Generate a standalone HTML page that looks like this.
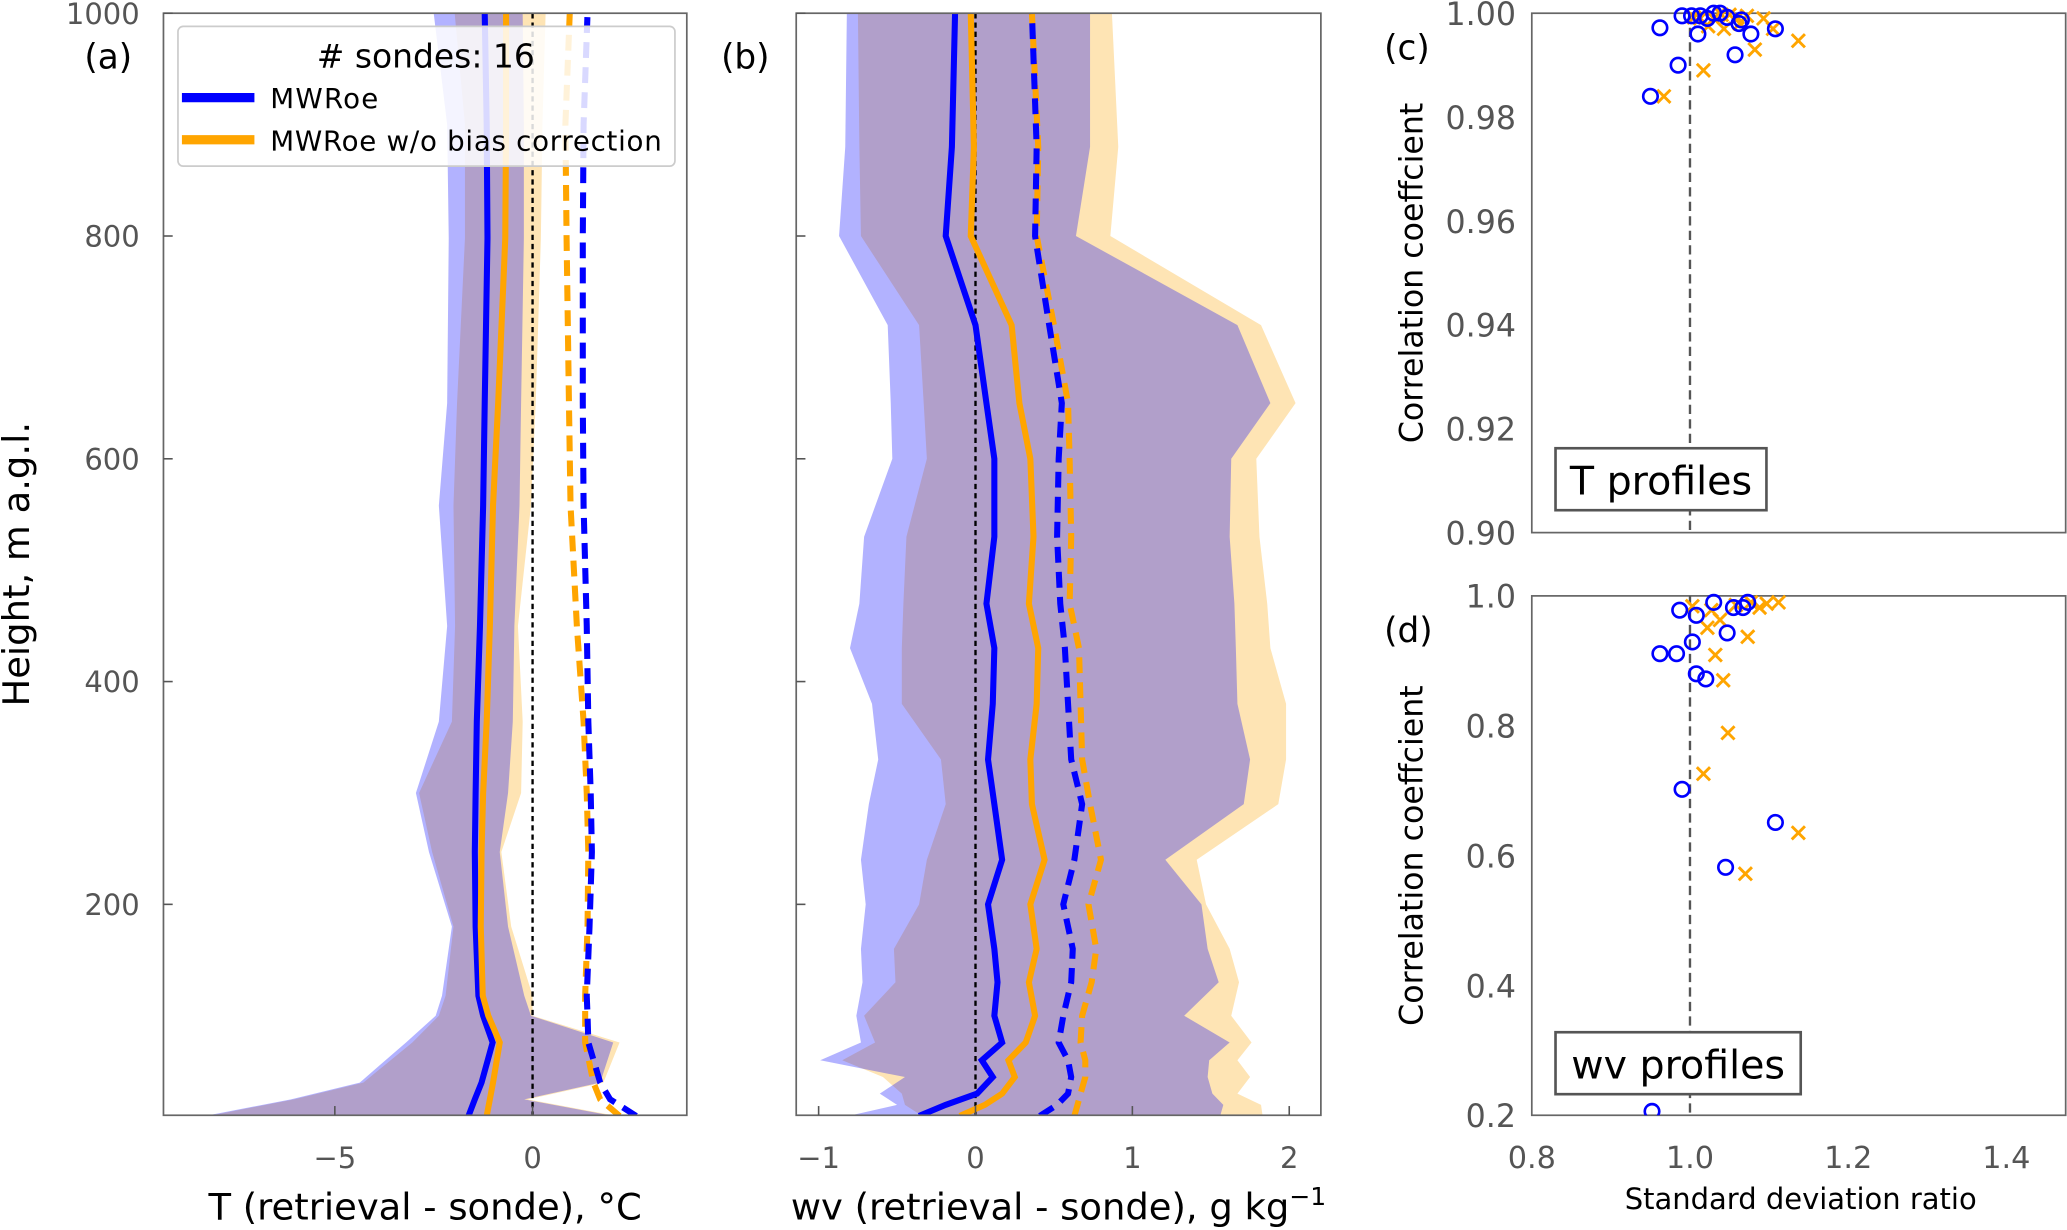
<!DOCTYPE html>
<html><head><meta charset="utf-8"><style>
html,body{margin:0;padding:0;background:#fff;}
svg{display:block;font-family:"DejaVu Sans","Liberation Sans",sans-serif;}
</style></head><body>
<svg id="fig" width="2067" height="1230" viewBox="0 0 1568 933" xmlns="http://www.w3.org/2000/svg"></svg>
<script>
// ---------- Panel (a) data: temperature differences ----------
const htsA = [10,25,40,76,100,118,180,247,300,364,450,558,650,798,900,1000];
const aBlueSolid = [-1.62,-1.46,-1.29,-1.01,-1.25,-1.37,-1.44,-1.46,-1.44,-1.41,-1.33,-1.25,-1.21,-1.14,-1.16,-1.21];
const aOrangeSolid = [-1.16,-1.08,-1.00,-0.83,-1.12,-1.26,-1.31,-1.29,-1.25,-1.16,-1.08,-1.00,-0.87,-0.69,-0.67,-0.67];
const aBlueDashed = [2.62,1.96,1.71,1.41,1.39,1.37,1.44,1.50,1.47,1.41,1.37,1.29,1.27,1.27,1.29,1.39];
const aOrangeDashed = [2.20,1.71,1.54,1.33,1.33,1.33,1.39,1.41,1.37,1.29,1.12,0.96,0.92,0.86,0.83,0.94];
const aBlueLo = [-8.28,-6.11,-4.37,-3.20,-2.45,-2.29,-2.04,-2.62,-2.95,-2.37,-2.16,-2.37,-2.16,-2.12,-2.16,-2.50];
const aBlueHi = [2.04,-0.21,1.71,2.04,-0.04,-0.21,-0.62,-0.83,-0.62,-0.50,-0.46,-0.33,-0.29,-0.22,-0.22,-0.25];
const aOrangeLo = [-8.19,-6.03,-4.28,-3.04,-2.37,-2.20,-2.00,-2.54,-2.87,-2.04,-1.96,-2.00,-1.91,-1.71,-1.71,-1.97];
const aOrangeHi = [2.12,-0.12,1.79,2.20,0.00,0.00,-0.54,-0.79,-0.29,-0.25,-0.37,-0.04,0.08,0.21,0.25,0.33];
const aXTicks = [-5,0];
const yTicksAB = [200,400,600,800,1000];

// ---------- Panel (b) data: water vapour differences ----------
const htsB = [10,20,30,45,60,76,100,130,160,200,240,290,330,380,430,470,530,600,650,720,800,880,1000];
const bBlueSolid = [-0.36,-0.19,0.01,0.11,0.04,0.17,0.12,0.14,0.12,0.08,0.17,0.12,0.08,0.11,0.12,0.07,0.12,0.12,0.07,0.00,-0.19,-0.15,-0.13];
const bOrangeSolid = [-0.10,0.06,0.17,0.25,0.21,0.32,0.38,0.34,0.39,0.35,0.44,0.36,0.35,0.39,0.40,0.34,0.37,0.35,0.28,0.23,-0.03,-0.01,-0.03];
const bBlueDashed = [0.41,0.52,0.59,0.61,0.59,0.53,0.56,0.61,0.62,0.56,0.63,0.68,0.61,0.59,0.57,0.54,0.52,0.53,0.55,0.47,0.38,0.39,0.36];
const bOrangeDashed = [0.63,0.65,0.67,0.70,0.70,0.67,0.68,0.74,0.77,0.72,0.80,0.73,0.68,0.67,0.66,0.60,0.61,0.60,0.59,0.50,0.39,0.40,0.36];
const bBlueLo = [-0.81,-0.50,-0.61,-0.45,-0.99,-0.73,-0.76,-0.72,-0.73,-0.70,-0.73,-0.68,-0.62,-0.66,-0.80,-0.74,-0.71,-0.53,-0.54,-0.56,-0.87,-0.83,-0.82];
const bBlueHi = [1.56,1.58,1.51,1.48,1.49,1.62,1.33,1.55,1.48,1.44,1.21,1.71,1.75,1.67,1.66,1.65,1.62,1.63,1.88,1.67,0.64,0.73,0.73];
const bOrangeLo = [-0.34,-0.45,-0.47,-0.59,-0.85,-0.64,-0.71,-0.51,-0.52,-0.36,-0.31,-0.19,-0.22,-0.47,-0.47,-0.46,-0.44,-0.31,-0.33,-0.36,-0.73,-0.74,-0.75];
const bOrangeHi = [1.83,1.82,1.67,1.75,1.67,1.76,1.63,1.68,1.62,1.47,1.41,1.93,1.98,1.98,1.88,1.86,1.81,1.79,2.04,1.82,0.86,0.91,0.87];
const bXTicks = [-1,0,1,2];

// ---------- Panel (c) data: T profile statistics ----------
const cBlueSd = [0.962,0.990,1.002,1.013,1.022,1.010,1.030,1.057,1.077,1.062,1.108,0.985,0.950,1.065,1.038,1.047];
const cBlueR = [0.9972,0.9995,0.9995,0.9995,0.999,0.996,1.0,0.992,0.996,0.998,0.997,0.990,0.984,0.9987,1.0,0.9992];
const cOrangeSd = [0.967,1.017,1.082,1.137,1.105,1.043,1.063,1.023,1.050,1.005,1.093,1.030,1.060,1.013,1.072,1.040];
const cOrangeR = [0.984,0.989,0.993,0.9947,0.997,0.997,0.998,0.9975,0.9997,0.9992,0.999,0.999,0.9992,0.999,0.9995,0.9997];
const cYTicks = [0.90,0.92,0.94,0.96,0.98,1.00];

// ---------- Panel (d) data: wv profile statistics ----------
const dBlueSd = [0.987,1.008,1.030,1.055,1.067,1.073,1.047,0.962,0.983,1.003,1.008,1.020,0.990,1.108,1.045,0.952];
const dBlueR = [0.978,0.970,0.990,0.982,0.982,0.990,0.943,0.911,0.911,0.929,0.880,0.872,0.702,0.651,0.582,0.206];
const dOrangeSd = [1.027,1.038,1.077,1.088,1.112,1.022,1.073,1.032,1.042,1.048,1.017,1.137,1.070,1.058,1.097,1.003];
const dOrangeR = [0.978,0.963,0.990,0.982,0.990,0.951,0.937,0.909,0.870,0.789,0.726,0.635,0.572,0.986,0.988,0.984];
const dYTicks = [0.2,0.4,0.6,0.8,1.0];
const sdXTicks = [0.8,1.0,1.2,1.4];

const NS = "http://www.w3.org/2000/svg";
const svg = document.getElementById('fig');
function el(tag, attrs, parent, text){
  const e = document.createElementNS(NS, tag);
  for (const k in attrs) e.setAttribute(k, attrs[k]);
  if (text !== undefined) e.textContent = text;
  (parent||svg).appendChild(e);
  return e;
}
function lin(d0,d1,r0,r1){ return v => r0 + (v-d0)*(r1-r0)/(d1-d0); }

const yH = lin(1000, 200, 10, 686);
const xA = lin(0, -5, 404, 254);
const xB = lin(0, 1, 740, 859);
const xSd = lin(0.8, 1.0, 1162, 1282);
const yC = lin(1.0, 0.9, 10, 404);
const yD = lin(1.0, 0.2, 452, 846);

function linePath(xs, hs, xf){ return xs.map((v,i)=>(i?'L':'M')+xf(v).toFixed(1)+','+yH(hs[i]).toFixed(1)).join(''); }
function bandPath(lo, hi, hs, xf){
  let d = lo.map((v,i)=>(i?'L':'M')+xf(v).toFixed(1)+','+yH(hs[i]).toFixed(1)).join('');
  for (let i=hi.length-1;i>=0;i--) d += 'L'+xf(hi[i]).toFixed(1)+','+yH(hs[i]).toFixed(1);
  return d+'Z';
}

function profilePanel(id, x0, x1, hs, xf, series, xticks, xtitle, letter, letterX){
  const g = el('g', {}, svg);
  
  
  el('defs', {}, g).innerHTML = `<clipPath id="clip-${id}"><rect x="${x0}" y="10" width="${x1-x0}" height="836"/></clipPath>`;
  const plot = el('g', {'clip-path':`url(#clip-${id})`}, g);
  const ob = el('path', {d: bandPath(series.olo, series.ohi, hs, xf), fill:'#fee4b4'}, plot);
  
  
  const bb = el('path', {d: bandPath(series.blo, series.bhi, hs, xf), fill:'#0000ff', 'fill-opacity':0.3}, plot);
  
  
  const zl = el('line', {x1:xf(0), x2:xf(0), y1:10, y2:846, stroke:'#000', 'stroke-width':1.8, 'stroke-dasharray':'4,3'}, plot);
  
  
  const defs = [
    ['bs', '#0000ff', null, 'mwroe-mean-line'],
    ['os', '#ffa500', null, 'no-bias-correction-mean-line'],
    ['od', '#ffa500', '12,7', 'no-bias-correction-rmse-line'],
    ['bd', '#0000ff', '12,7', 'mwroe-rmse-line']
  ];
  defs.forEach(([k,c,dash,nm])=>{
    const p = el('path', {d: linePath(series[k], hs, xf), fill:'none', stroke:c, 'stroke-width':4.6, 'stroke-linejoin':'miter'}, plot);
    if (dash) p.setAttribute('stroke-dasharray', dash);
    
    
  });
  const fr = el('rect', {x:x0, y:10, width:x1-x0, height:836, fill:'none', stroke:'#666', 'stroke-width':1.3}, g);
  
  
  yTicksAB.forEach(t=>{
    el('line', {x1:x0, x2:x0+7, y1:yH(t), y2:yH(t), stroke:'#555', 'stroke-width':1.2}, g);
  });
  xticks.forEach(t=>{
    el('line', {x1:xf(t), x2:xf(t), y1:846, y2:839, stroke:'#555', 'stroke-width':1.2}, g);
    const tl = el('text', {x:xf(t), y:886, 'font-size':22, fill:'#555', 'text-anchor':'middle'}, g, t<0 ? '\u2212'+Math.abs(t) : String(t));
    
    
  });
  const xt = el('text', {x:(x0+x1)/2, y:925, 'font-size':28, fill:'#000', 'text-anchor':'middle'}, g);
  xt.innerHTML = xtitle;
  
  
  const lt = el('text', {x:letterX, y:52, 'font-size':26, fill:'#000'}, g, letter);
  
  
  return g;
}

const gA = profilePanel('a', 124, 521, htsA, xA,
  {bs:aBlueSolid, os:aOrangeSolid, bd:aBlueDashed, od:aOrangeDashed, blo:aBlueLo, bhi:aBlueHi, olo:aOrangeLo, ohi:aOrangeHi},
  aXTicks, 'T (retrieval - sonde), °C', '(a)', 64);
const gB = profilePanel('b', 604, 1002, htsB, xB,
  {bs:bBlueSolid, os:bOrangeSolid, bd:bBlueDashed, od:bOrangeDashed, blo:bBlueLo, bhi:bBlueHi, olo:bOrangeLo, ohi:bOrangeHi},
  bXTicks, 'wv (retrieval - sonde), g kg<tspan dy="-11" font-size="19">\u22121</tspan>', '(b)', 547);

yTicksAB.forEach(t=>{
  const tl = el('text', {x:106, y:yH(t)+8, 'font-size':22, fill:'#555', 'text-anchor':'end'}, gA, String(t));
  
  
});
const yTitle = el('text', {x:0, y:0, 'font-size':28, fill:'#000', 'text-anchor':'middle', transform:'translate(22,428) rotate(-90)'}, gA, 'Height, m a.g.l.');



const leg = el('g', {}, gA);


el('rect', {x:135, y:20, width:377, height:106, rx:4, fill:'#fff', 'fill-opacity':0.85, stroke:'#ccc', 'stroke-width':1.3}, leg);
el('text', {x:323, y:51, 'font-size':25, fill:'#000', 'text-anchor':'middle'}, leg, '# sondes: 16');
const le1 = el('line', {x1:138, x2:193, y1:74, y2:74, stroke:'#0000ff', 'stroke-width':7}, leg);


el('text', {x:205, y:82, 'font-size':21, fill:'#000', textLength:82}, leg, 'MWRoe');
const le2 = el('line', {x1:138, x2:193, y1:106, y2:106, stroke:'#ffa500', 'stroke-width':7}, leg);


el('text', {x:205, y:114, 'font-size':21, fill:'#000', textLength:297}, leg, 'MWRoe w/o bias correction');

function scatterPanel(id, y0, y1, yf, yticks, fmt, bsd, br, osd, or, boxLabel, boxY, boxW, letter, showX){
  const g = el('g', {}, svg);
  
  
  el('defs', {}, g).innerHTML = `<clipPath id="clip-${id}"><rect x="1162" y="${y0-8}" width="406" height="${y1-y0+8}"/></clipPath>`;
  const fr = el('rect', {x:1162, y:y0, width:405, height:y1-y0, fill:'none', stroke:'#666', 'stroke-width':1.3}, g);
  
  
  const ref = el('line', {x1:xSd(1.0), x2:xSd(1.0), y1:y0, y2:y1, stroke:'#555', 'stroke-width':1.8, 'stroke-dasharray':'7,4'}, g);
  
  
  yticks.forEach(t=>{
    const tl = el('text', {x:1150, y:yf(t)+9, 'font-size':24, fill:'#555', 'text-anchor':'end'}, g, fmt(t));
    
    
  });
  const yt = el('text', {x:0, y:0, 'font-size':24, fill:'#000', 'text-anchor':'middle', transform:`translate(1079,${(y0+y1)/2}) rotate(-90)`}, g, 'Correlation coeffcient');
  
  
  const pts = el('g', {'clip-path':`url(#clip-${id})`}, g);
  osd.forEach((v,i)=>{
    const x = xSd(v), y = yf(or[i]), s = 5;
    const m = el('path', {d:`M${x-s},${y-s}L${x+s},${y+s}M${x-s},${y+s}L${x+s},${y-s}`, stroke:'#ffa500', 'stroke-width':2.2, fill:'none'}, pts);
    
    
  });
  bsd.forEach((v,i)=>{
    const c = el('circle', {cx:xSd(v), cy:yf(br[i]), r:5.5, stroke:'#0000ff', 'stroke-width':2, fill:'none'}, pts);
    
    
  });
  const bx = el('g', {}, g);
  
  
  el('rect', {x:1180, y:boxY, width:boxW, height:47, fill:'#fff', stroke:'#555', 'stroke-width':2}, bx);
  el('text', {x:1180+boxW/2, y:boxY+35, 'font-size':30, fill:'#000', 'text-anchor':'middle'}, bx, boxLabel);
  const lt = el('text', {x:1050, y:y0+35, 'font-size':26, fill:'#000'}, g, letter);
  
  
  if (showX){
    sdXTicks.forEach(t=>{
      const tl = el('text', {x:xSd(t), y:886, 'font-size':23, fill:'#555', 'text-anchor':'middle'}, g, t.toFixed(1));
      
      
    });
    const xt = el('text', {x:1366, y:917, 'font-size':22, fill:'#000', 'text-anchor':'middle'}, g, 'Standard deviation ratio');
    
    
  }
}
scatterPanel('c', 10, 404, yC, cYTicks, t=>t.toFixed(2), cBlueSd, cBlueR, cOrangeSd, cOrangeR, 'T profiles', 340, 160, '(c)', false);
scatterPanel('d', 452, 846, yD, dYTicks, t=>t.toFixed(1), dBlueSd, dBlueR, dOrangeSd, dOrangeR, 'wv profiles', 783, 186, '(d)', true);
</script>
</body></html>
